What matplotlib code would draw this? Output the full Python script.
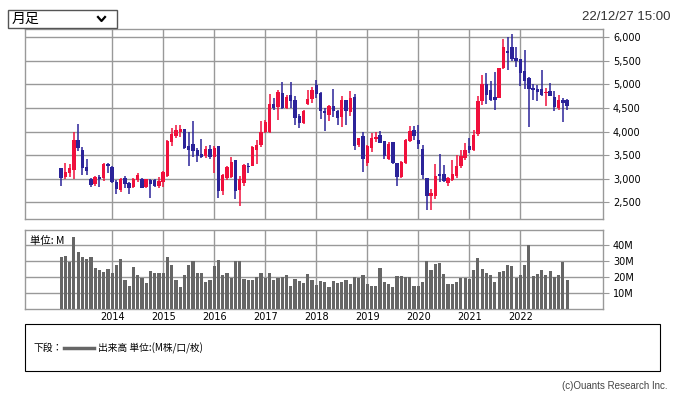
import matplotlib
matplotlib.use('Agg')
import matplotlib.pyplot as plt
from matplotlib.patches import Rectangle
from matplotlib.lines import Line2D

W, H = 678, 399

start_year = 2013
years = [2014, 2015, 2016, 2017, 2018, 2019, 2020, 2021, 2022]

# monthly OHLC, Jan 2013 .. Dec 2022
opens = [3220, 3040, 3120, 3190, 3820, 3610, 3250, 2990, 2880, 3030, 3020, 3320,
         3250, 2940, 2760, 3020, 2910, 2830, 2970, 3000, 2820, 2980, 2970, 2850,
         2920, 3050, 3770, 3910, 3990, 4060, 3700, 3740, 3610, 3530, 3490, 3630,
         3460, 3700, 2730, 3020, 3030, 3400, 2760, 2900, 3280, 3270, 3610, 3720,
         4000, 4000, 4590, 4530, 4810, 4490, 4780, 4670, 4330, 4190, 4590, 4690,
         4990, 4820, 4440, 4350, 4540, 4430, 4300, 4670, 4420, 4740, 3710, 3900,
         3340, 3660, 3840, 3920, 3790, 3420, 3780, 3340, 3040, 3340, 3810, 4030,
         3820, 3630, 3020, 2630, 2640, 3090, 3090, 2900, 2980, 3050, 3260, 3450,
         3690, 3600, 3950, 4640, 5020, 4890, 4740, 4720, 5350, 5700, 5790, 5570,
         5540, 5280, 5145, 4910, 4910, 4910, 4820, 4855, 4725, 4490, 4680, 4660]
highs = [3220, 3330, 3310, 4000, 4160, 3680, 3420, 3010, 3050, 3080, 3330, 3340,
         3270, 2970, 3010, 3050, 2940, 3010, 3120, 3010, 3000, 3000, 3000, 3030,
         3170, 3820, 4070, 4140, 4140, 4060, 4000, 4230, 3650, 3840, 3700, 3720,
         3700, 3700, 3090, 3280, 3470, 3400, 3050, 3310, 3330, 3700, 3820, 4230,
         4250, 4800, 4710, 4880, 5060, 4780, 5050, 4760, 4370, 4460, 4880, 4950,
         5100, 4850, 4510, 4560, 4910, 4460, 4750, 4670, 4860, 4800, 3870, 4000,
         3710, 3960, 4000, 4010, 3800, 3780, 3780, 3340, 3370, 3840, 4120, 4120,
         4140, 3710, 3020, 2790, 3320, 3530, 3300, 3040, 3400, 3500, 3600, 3750,
         3860, 4030, 4750, 5210, 5240, 5080, 5270, 5350, 5970, 6000, 6060, 5790,
         5540, 5740, 5166, 5000, 4980, 5300, 4920, 5040, 4860, 4770, 4705, 4690]
lows = [2850, 2990, 3040, 2990, 3580, 3080, 3080, 2830, 2850, 2830, 2950, 3120,
        2900, 2680, 2710, 2800, 2680, 2800, 2940, 2800, 2800, 2600, 2830, 2810,
        2820, 3030, 3700, 3860, 3880, 3630, 3260, 3460, 3360, 3450, 3450, 3420,
        3130, 2600, 2660, 2970, 3010, 2570, 2430, 2850, 3120, 3260, 3310, 3680,
        3960, 3980, 4460, 4250, 4480, 4480, 4490, 4150, 4070, 4170, 4560, 4600,
        4710, 4270, 4020, 4230, 4300, 4140, 4100, 4140, 4330, 3610, 3680, 3150,
        3270, 3570, 3780, 3750, 3410, 3400, 3320, 2840, 3010, 3320, 3780, 3820,
        3640, 2990, 2330, 2330, 2580, 2940, 2930, 2840, 2950, 3010, 3220, 3400,
        3550, 3580, 3900, 4560, 4580, 4640, 4450, 4710, 5330, 5300, 5500, 5380,
        4960, 4900, 4100, 4660, 4650, 4750, 4540, 4745, 4430, 4450, 4200, 4450]
closes = [3020, 3140, 3230, 3820, 3660, 3220, 3170, 2870, 3030, 3000, 3310, 3260,
          2920, 2780, 3000, 2880, 2800, 3000, 3080, 2810, 2990, 2880, 2850, 2950,
          3150, 3790, 3950, 4040, 4060, 3660, 3610, 3590, 3480, 3470, 3630, 3470,
          3650, 2730, 3080, 3250, 3360, 2750, 3000, 3290, 3240, 3680, 3720, 4000,
          4210, 4590, 4510, 4850, 4510, 4740, 4640, 4280, 4180, 4440, 4690, 4880,
          4790, 4440, 4400, 4550, 4440, 4290, 4670, 4440, 4720, 3700, 3860, 3420,
          3700, 3870, 3880, 3760, 3480, 3730, 3340, 3040, 3350, 3820, 4010, 3910,
          3730, 3080, 2640, 2700, 3060, 3050, 2950, 3020, 3090, 3260, 3490, 3620,
          3620, 3920, 4640, 5000, 4770, 4660, 4660, 5340, 5800, 5660, 5550, 5490,
          5240, 5080, 4900, 4890, 4850, 4770, 4850, 4755, 4520, 4680, 4610, 4540]
# volume in millions
volumes = [33.0, 33.6, 29.5, 45.4, 36.1, 32.4, 31.7, 32.4, 26.1, 24.3, 23.2, 24.9,
           23.0, 28.0, 31.7, 18.1, 14.3, 26.6, 21.2, 19.3, 16.2, 23.7, 22.4, 22.4,
           22.4, 32.4, 27.4, 18.1, 13.7, 21.2, 27.4, 30.5, 22.4, 22.4, 16.8, 18.1,
           26.8, 31.1, 21.2, 23.0, 19.3, 29.9, 30.5, 18.7, 18.1, 18.1, 20.5, 23.0,
           19.3, 22.4, 18.1, 19.3, 20.5, 21.2, 14.3, 18.7, 17.4, 16.2, 21.8, 18.1,
           14.9, 17.6, 17.0, 13.9, 17.6, 16.4, 17.0, 18.2, 15.7, 20.1, 19.5, 21.3,
           15.7, 14.5, 14.5, 25.7, 17.0, 15.7, 13.9, 20.7, 20.7, 20.1, 20.1, 14.5,
           14.5, 17.0, 30.0, 24.4, 28.2, 28.8, 21.9, 15.7, 15.7, 17.0, 19.5, 19.5,
           18.8, 24.4, 31.9, 25.1, 22.6, 21.3, 17.0, 23.2, 23.8, 27.5, 26.9, 19.5,
           21.3, 27.5, 40.0, 20.7, 21.9, 24.4, 21.3, 23.8, 20.1, 21.3, 29.4, 18.2]

price_ticks = [2500, 3000, 3500, 4000, 4500, 5000, 5500, 6000]
vol_ticks = [10, 20, 30, 40]

UP = '#f0103c'
DOWN = '#2b2399'
GRID = '#999999'

fig = plt.figure(figsize=(W / 100, H / 100), dpi=100)


def px_axes(x0, y0, x1, y1):
    return fig.add_axes([x0 / W, 1 - y1 / H, (x1 - x0) / W, (y1 - y0) / H])


def ftext(x, y, s, **kw):
    fig.text(x / W, 1 - y / H, s, **kw)


year_pos = [12 * (y - start_year) for y in years]
xlim = (-8.5, 127.5)

# price panel
ax = px_axes(25, 29.3, 603.3, 218.7)
for i, (o, h, l, c) in enumerate(zip(opens, highs, lows, closes)):
    col = UP if c >= o else DOWN
    ax.vlines(i, l, h, color=col, lw=1.1, zorder=3)
    ax.bar(i, max(abs(c - o), 25), bottom=min(o, c), width=0.8, color=col,
           lw=0, zorder=4)
ax.set_xlim(*xlim)
ax.set_ylim(2152, 6170)
ax.set_xticks(year_pos)
ax.set_yticks(price_ticks)
ax.set_yticklabels([f'{v:,}' for v in price_ticks])
ax.grid(True, color=GRID, lw=1)
ax.tick_params(axis='x', length=0, labelbottom=False)
ax.tick_params(axis='y', left=False, labelleft=False, right=True, labelright=True,
               length=4, color=GRID, labelsize=7, pad=3)

# volume panel
av = px_axes(25, 230, 603.3, 309.3)
av.bar(range(len(volumes)), volumes, width=0.75, color='#666666', lw=0, zorder=3)
av.set_xlim(*xlim)
av.set_ylim(0, 49.6)
av.set_xticks(year_pos)
av.set_xticklabels([str(y) for y in years])
av.set_yticks(vol_ticks)
av.set_yticklabels([f'{v}M' for v in vol_ticks])
av.grid(True, color=GRID, lw=1)
av.tick_params(axis='x', length=0, labelsize=7, pad=2)
av.tick_params(axis='y', left=False, labelleft=False, right=True, labelright=True,
               length=4, color=GRID, labelsize=7, pad=3)
av.text(0.008, 0.92, '単位: M', transform=av.transAxes, fontsize=7.5,
        family=['Noto Sans CJK JP', 'DejaVu Sans'], va='top', ha='left')

for a in (ax, av):
    for s in a.spines.values():
        s.set_color(GRID)
        s.set_linewidth(1)

# dropdown box at top left
fig.patches.append(Rectangle((8 / W, 1 - 28 / H), 109 / W, 18 / H,
                             transform=fig.transFigure, facecolor='white',
                             edgecolor='#555555', lw=1))
ftext(12, 19, '月足', fontsize=10, family=['Noto Sans CJK JP', 'DejaVu Sans'],
      va='center', ha='left')
fig.lines.append(Line2D([98 / W, 101.5 / W, 105 / W],
                        [1 - 17 / H, 1 - 21 / H, 1 - 17 / H],
                        transform=fig.transFigure, color='black', lw=1.6))

ftext(670, 17, '22/12/27 15:00', fontsize=9.5, family='Liberation Sans',
      color='#333333', ha='right', va='center')

# legend box
fig.patches.append(Rectangle((25 / W, 1 - 371 / H), 635 / W, 47 / H,
                             transform=fig.transFigure, facecolor='none',
                             edgecolor='black', lw=0.8))
ftext(34, 348, '下段：', fontsize=7, family=['Noto Sans CJK JP', 'DejaVu Sans'],
      va='center', ha='left')
fig.lines.append(Line2D([64 / W, 94 / W], [1 - 348 / H, 1 - 348 / H],
                        transform=fig.transFigure, color='#666666', lw=2.5))
ftext(98, 348, '出来高 単位:(M株/口/枚)', fontsize=7,
      family=['Noto Sans CJK JP', 'DejaVu Sans'], va='center', ha='left')

ftext(668, 386, '(c)Ouants Research Inc.', fontsize=7, family='Liberation Sans',
      color='#444444', ha='right', va='center')

fig.savefig('out.png', dpi=100)
